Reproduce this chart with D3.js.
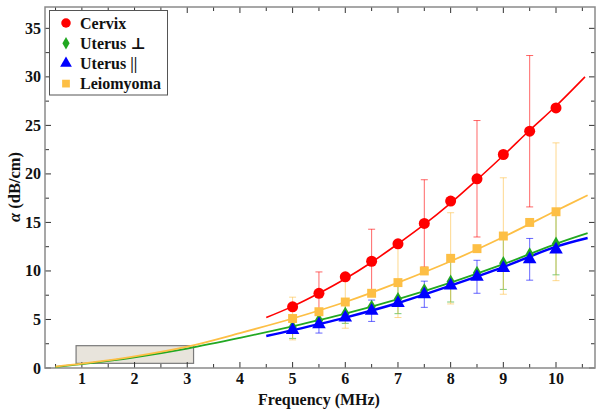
<!DOCTYPE html>
<html><head><meta charset="utf-8">
<script src="https://cdn.jsdelivr.net/npm/d3@7"></script>
<style>body{margin:0;background:#fff}svg{display:block}text{font-family:"Liberation Serif","DejaVu Serif",serif;font-weight:bold}</style>
</head><body><svg id="c" width="602" height="412"></svg>
<script>
// ---- data ----
const freqs = [5, 5.5, 6, 6.5, 7, 7.5, 8, 8.5, 9, 9.5, 10];
const seriesNames = ["Cervix", "Uterus \u22A5", "Uterus ||", "Leiomyoma"];
const seriesColors = ["#ff0000", "#22a822", "#0000ff", "#fdbf45"];
const cervix    = [6.3, 7.7, 9.4, 11.0, 12.8, 14.9, 17.2, 19.5, 22.0, 24.4, 26.8];
const uterusPerp= [4.2, 4.9, 5.6, 6.3, 7.1, 8.0, 8.9, 9.8, 10.8, 11.7, 12.8];
const uterusPar = [3.9, 4.5, 5.2, 5.9, 6.7, 7.6, 8.5, 9.4, 10.3, 11.2, 12.2];
const leiomyoma = [5.1, 5.8, 6.8, 7.7, 8.8, 10.0, 11.3, 12.3, 13.6, 15.0, 16.1];
const cervixErr    = [null, 2.2, null, 3.3, null, 4.5, null, 6.0, null, 7.8, null];
const uterusPerpErr= [1.15, null, 1.0, null, 1.5, null, 2.1, null, 2.7, null, 3.2];
const uterusParErr = [null, 0.9, null, 1.1, null, 1.35, null, 1.7, null, 2.15, null];
const leiomyomaErr = [2.2, null, 2.7, null, 3.6, null, 4.7, null, 6.0, null, 7.1];
// fitted curves
const cervixFitX = [4.5, 5, 5.5, 6, 6.5, 7, 7.5, 8, 8.5, 9, 9.5, 10, 10.55];
const cervixFitY = [5.2, 6.35, 7.7, 9.2, 10.9, 12.8, 14.8, 17.0, 19.4, 21.9, 24.5, 27.0, 30.0];
const perpFitX = [0.5, 1, 2, 3, 4, 5, 6, 7, 8, 9, 10, 10.6];
const perpFitY = [0.12, 0.4, 1.1, 2.0, 3.1, 4.3, 5.6, 7.1, 8.8, 10.7, 12.8, 13.9];
const parFitX = [4.5, 5, 6, 7, 8, 9, 10, 10.6];
const parFitY = [3.3, 3.9, 5.2, 6.7, 8.5, 10.4, 12.5, 13.4];
const leioFitX = [0.5, 1, 2, 3, 4, 5, 6, 7, 8, 9, 10, 10.6];
const leioFitY = [0.15, 0.45, 1.2, 2.2, 3.6, 5.1, 6.8, 8.8, 11.0, 13.5, 16.2, 17.8];
const regionX = [0.89, 3.12];
const regionY = [0.48, 2.3];
const xTicks = [1, 2, 3, 4, 5, 6, 7, 8, 9, 10];
const yTicks = [0, 5, 10, 15, 20, 25, 30, 35];
const xLabel = "Frequency (MHz)";
const yLabel = "(dB/cm)";

// ---- layout ----
const svg = d3.select("#c");
const L = 45, R = 595, T = 7, B = 368;
const x = d3.scaleLinear().domain([0.3, 10.74]).range([L, R]);
const y = d3.scaleLinear().domain([0, 37.2]).range([B, T]);

// region box
svg.append("rect").attr("x", x(regionX[0])).attr("y", y(regionY[1]))
  .attr("width", x(regionX[1]) - x(regionX[0])).attr("height", y(regionY[0]) - y(regionY[1]))
  .attr("fill", "#e8e4dc").attr("stroke", "#7a7a7a").attr("stroke-width", 1.2);

// ticks (inward) on all sides
const g = svg.append("g").attr("stroke", "#333").attr("stroke-width", 1);
const xMinor = d3.range(0.5, 10.75, 0.5);
const yMinor = d3.range(0, 37.2, 2.5);
xMinor.forEach(v => {
  const len = Number.isInteger(v) ? 6 : 4;
  g.append("line").attr("x1", x(v)).attr("x2", x(v)).attr("y1", B).attr("y2", B - len);
  g.append("line").attr("x1", x(v)).attr("x2", x(v)).attr("y1", T).attr("y2", T + len);
});
yMinor.forEach(v => {
  const len = (v % 5 === 0) ? 6 : 4;
  g.append("line").attr("y1", y(v)).attr("y2", y(v)).attr("x1", L).attr("x2", L + len);
  g.append("line").attr("y1", y(v)).attr("y2", y(v)).attr("x1", R).attr("x2", R - len);
});
// frame
svg.append("rect").attr("x", L).attr("y", T).attr("width", R - L).attr("height", B - T)
  .attr("fill", "none").attr("stroke", "#8a8a8a").attr("stroke-width", 1.5);

// tick labels
svg.append("g").selectAll("text").data(xTicks).join("text")
  .attr("x", d => x(d)).attr("y", 384).attr("text-anchor", "middle")
  .attr("font-size", 16).attr("fill", "#111").text(d => d);
svg.append("g").selectAll("text").data(yTicks).join("text")
  .attr("x", 41).attr("y", d => y(d) + 5.5).attr("text-anchor", "end")
  .attr("font-size", 16).attr("fill", "#111").text(d => d);
svg.append("text").attr("x", 319).attr("y", 405).attr("text-anchor", "middle")
  .attr("font-size", 16).attr("fill", "#111").text(xLabel);
const yl = svg.append("text").attr("transform", "translate(20,187) rotate(-90)")
  .attr("text-anchor", "middle").attr("font-size", 16.5).attr("fill", "#111");
yl.append("tspan").attr("font-style", "italic").text("\u03B1 ");
yl.append("tspan").text(yLabel);

// fit curves
const line = d3.line().x(d => x(d[0])).y(d => y(d[1])).curve(d3.curveCatmullRom);
const fits = [
  [perpFitX, perpFitY, seriesColors[1], 1.8],
  [leioFitX, leioFitY, seriesColors[3], 1.8],
  [parFitX, parFitY, seriesColors[2], 2.4],
  [cervixFitX, cervixFitY, seriesColors[0], 1.6]
];
fits.forEach(([fx, fy, c, w]) => {
  svg.append("path").datum(d3.zip(fx, fy)).attr("d", line)
    .attr("fill", "none").attr("stroke", c).attr("stroke-width", w);
});

// error bars
const series = [
  [cervix, cervixErr, seriesColors[0]],
  [uterusPerp, uterusPerpErr, seriesColors[1]],
  [uterusPar, uterusParErr, seriesColors[2]],
  [leiomyoma, leiomyomaErr, seriesColors[3]]
];
series.forEach(([vals, errs, c]) => {
  const eg = svg.append("g").attr("stroke", c).attr("stroke-opacity", 0.6).attr("stroke-width", 1);
  freqs.forEach((f, i) => {
    if (errs[i] == null) return;
    const lo = vals[i] - errs[i], hi = vals[i] + errs[i];
    eg.append("line").attr("x1", x(f)).attr("x2", x(f)).attr("y1", y(lo)).attr("y2", y(hi));
    [lo, hi].forEach(v => eg.append("line").attr("x1", x(f) - 3.5).attr("x2", x(f) + 3.5).attr("y1", y(v)).attr("y2", y(v)));
  });
});

// markers
const sym = [d3.symbolCircle, d3.symbolDiamond, d3.symbolTriangle, d3.symbolSquare];
const sizes = [95, 60, 80, 80];
series.forEach(([vals, errs, c], k) => {
  svg.append("g").selectAll("path").data(freqs).join("path")
    .attr("transform", (f, i) => `translate(${x(f)},${y(vals[i])})`)
    .attr("d", d3.symbol().type(sym[k]).size(sizes[k])).attr("fill", c);
});

// legend
const lg = svg.append("g");
lg.append("rect").attr("x", 49.5).attr("y", 10.5).attr("width", 118).attr("height", 84.5)
  .attr("fill", "#fff").attr("stroke", "#555").attr("stroke-width", 1);
seriesNames.forEach((n, k) => {
  const yy = 23 + k * 20.2;
  lg.append("path").attr("transform", `translate(66,${yy})`)
    .attr("d", d3.symbol().type(sym[k]).size(sizes[k] * 0.75)).attr("fill", seriesColors[k]);
  lg.append("text").attr("x", 80).attr("y", yy + 5.5).attr("font-size", 16).attr("fill", "#111").text(n);
});
</script></body></html>
